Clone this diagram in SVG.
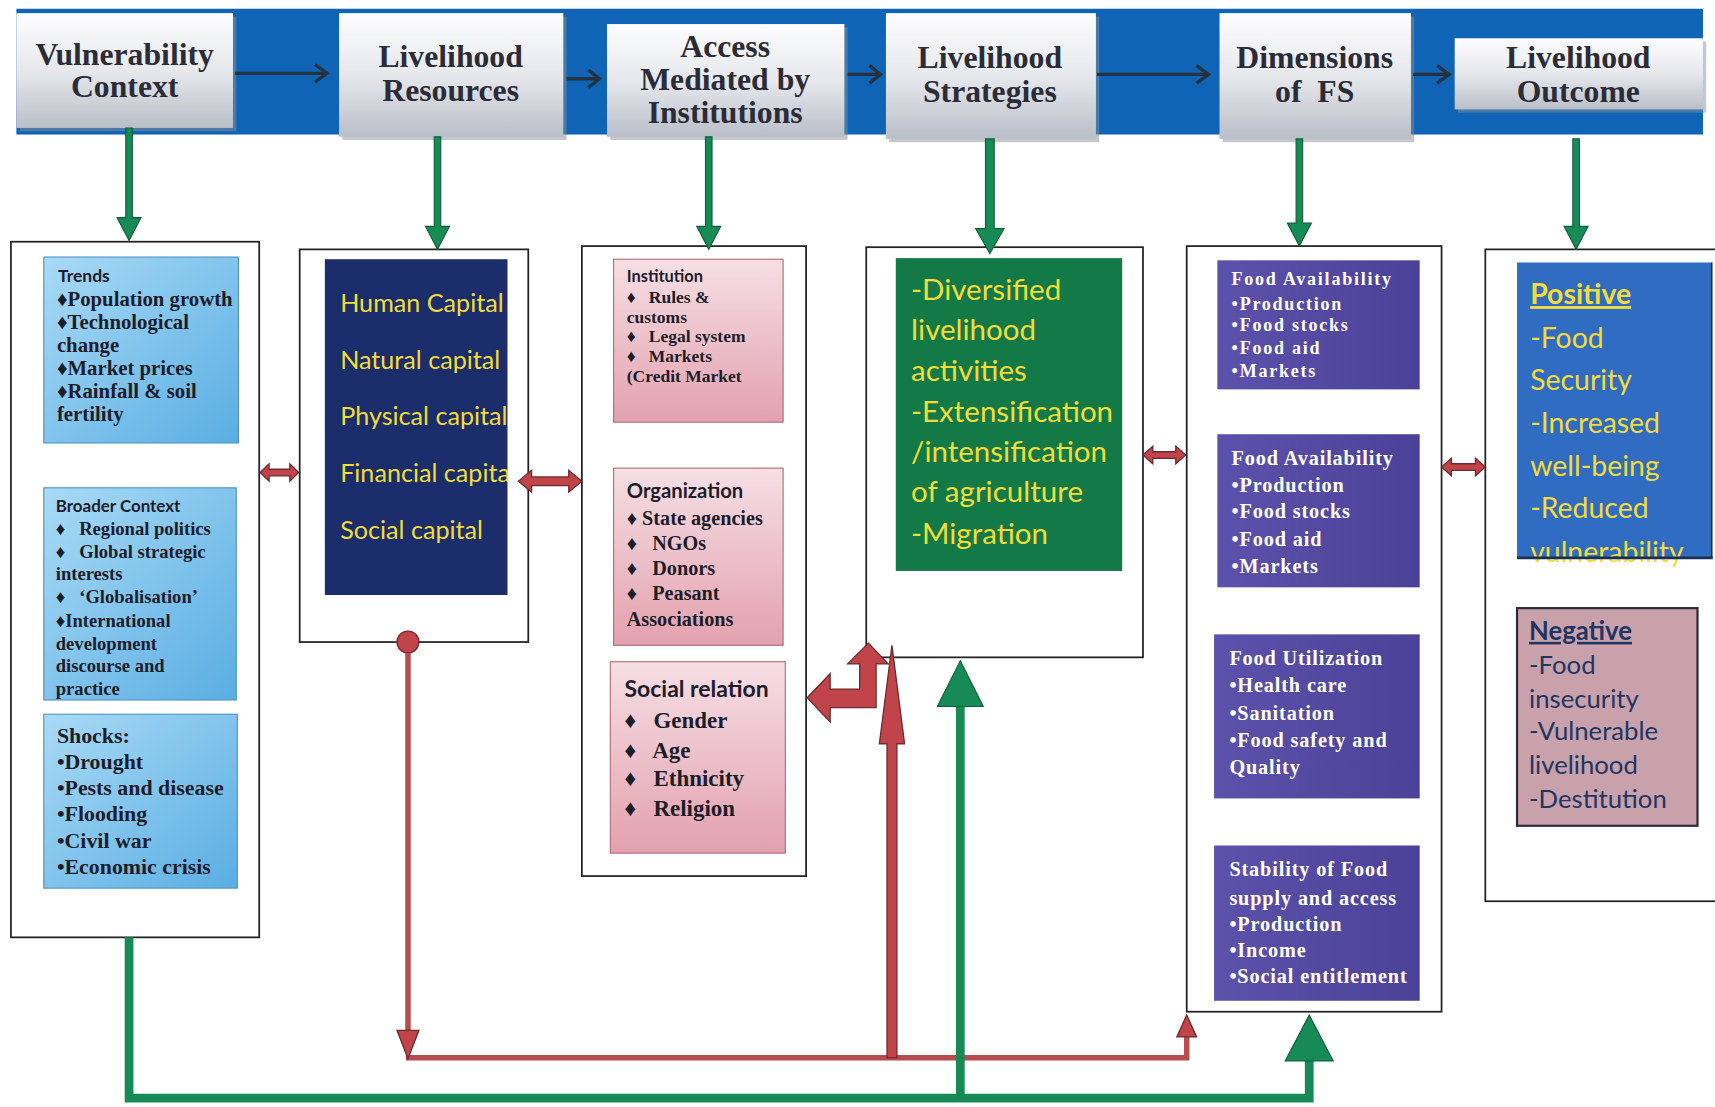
<svg xmlns="http://www.w3.org/2000/svg" width="1715" height="1107" viewBox="0 0 1715 1107">
<defs>
<linearGradient id="hdr" x1="0" y1="0" x2="0" y2="1"><stop offset="0" stop-color="#fdfdfe"/><stop offset="0.5" stop-color="#e6e8ec"/><stop offset="1" stop-color="#b9bfc8"/></linearGradient>
<linearGradient id="lblue" x1="0" y1="0" x2="1" y2="1"><stop offset="0" stop-color="#a9daf6"/><stop offset="1" stop-color="#5aaee3"/></linearGradient>
<linearGradient id="pink" x1="0" y1="0" x2="0" y2="1"><stop offset="0" stop-color="#f6dfe5"/><stop offset="1" stop-color="#e3a1ae"/></linearGradient>
<linearGradient id="purp" x1="0" y1="0" x2="1" y2="0"><stop offset="0" stop-color="#5d52ab"/><stop offset="1" stop-color="#4c4198"/></linearGradient>
<style>
.hdr{fill:url(#hdr)}
.shadow{fill:#8a8f98;opacity:0.5}
.ht{font-family:"Liberation Serif",serif;font-weight:bold;font-size:29px;fill:#2c2c38;text-anchor:middle}
.outer{fill:#ffffff;stroke:#222;stroke-width:1.6}
.sb{font-family:Lato,"Liberation Sans",sans-serif;font-weight:bold;fill:#1d1d2a}
.se{font-family:"Liberation Serif",serif;font-weight:bold;fill:#1d1d2a}
.pw{font-family:"Liberation Serif",serif;font-weight:bold;fill:#ffffff;letter-spacing:0.8px}
.pw1{letter-spacing:1.6px}
.yl{font-family:Lato,"Liberation Sans",sans-serif;fill:#f2dc3a}
.ng{font-family:Lato,"Liberation Sans",sans-serif;fill:#1f3563}
.garr{fill:#178a55;stroke:#0e5e38;stroke-width:1}
.rarr{fill:#c0444a;stroke:#6e2a2e;stroke-width:1.2}
.hline{stroke:#24323f;stroke-width:3;fill:none}
.hhead{stroke:#24323f;stroke-width:3;fill:none;stroke-linejoin:miter}
</style>
</defs>
<rect width="1715" height="1107" fill="#ffffff"/>
<g transform="scale(1.09375)">
<!-- top band -->
<rect id="band" x="15" y="8" width="1542" height="115" fill="#0f64b6"/>

<g id="hdr-vulnerability">
<rect class="shadow" x="18" y="15" width="198" height="105"/>
<rect class="hdr" x="15" y="12" width="198" height="105"/>
<text class="ht" x="114" y="59">Vulnerability</text>
<text class="ht" x="114" y="89">Context</text>
</g>
<g id="hdr-resources">
<rect class="shadow" x="313" y="15" width="205" height="113"/>
<rect class="hdr" x="310" y="12" width="205" height="113"/>
<text class="ht" x="412" y="61">Livelihood</text>
<text class="ht" x="412" y="92">Resources</text>
</g>
<g id="hdr-access">
<rect class="shadow" x="558" y="25" width="217" height="103"/>
<rect class="hdr" x="555" y="22" width="217" height="103"/>
<text class="ht" x="663" y="52">Access</text>
<text class="ht" x="663" y="82">Mediated by</text>
<text class="ht" x="663" y="112">Institutions</text>
</g>
<g id="hdr-strategies">
<rect class="shadow" x="813" y="15" width="192" height="115"/>
<rect class="hdr" x="810" y="12" width="192" height="115"/>
<text class="ht" x="905" y="62">Livelihood</text>
<text class="ht" x="905" y="93">Strategies</text>
</g>
<g id="hdr-dimensions">
<rect class="shadow" x="1118" y="15" width="175" height="115"/>
<rect class="hdr" x="1115" y="12" width="175" height="115"/>
<text class="ht" x="1202" y="62">Dimensions</text>
<text class="ht" x="1202" y="93" xml:space="preserve">of  FS</text>
</g>
<g id="hdr-outcome">
<rect class="shadow" x="1333" y="38" width="227" height="65"/>
<rect class="hdr" x="1330" y="35" width="227" height="65"/>
<text class="ht" x="1443" y="62">Livelihood</text>
<text class="ht" x="1443" y="93">Outcome</text>
</g>

<!-- content boxes -->
<g id="box-vulnerability">
<rect class="outer" x="10" y="221" width="227" height="636"/>
<rect x="40" y="235" width="178" height="170" fill="url(#lblue)" stroke="#4b93c4" stroke-width="1"/>
<text class="sb" x="53" y="258" font-size="16">Trends</text>
<text class="se" font-size="19"><tspan x="52" y="280">♦Population growth</tspan><tspan x="52" y="301">♦Technological</tspan><tspan x="52" y="322">change</tspan><tspan x="52" y="343">♦Market prices</tspan><tspan x="52" y="364">♦Rainfall &amp; soil</tspan><tspan x="52" y="385">fertility</tspan></text>
<rect x="40" y="446" width="176" height="194" fill="url(#lblue)" stroke="#4b93c4" stroke-width="1"/>
<text class="sb" x="51" y="468" font-size="15.5">Broader Context</text>
<text class="se" font-size="17" xml:space="preserve"><tspan x="51" y="489">♦   Regional politics</tspan><tspan x="51" y="510">♦   Global strategic</tspan><tspan x="51" y="530">interests</tspan><tspan x="51" y="551">♦   ‘Globalisation’</tspan><tspan x="51" y="573">♦International</tspan><tspan x="51" y="594">development</tspan><tspan x="51" y="614">discourse and</tspan><tspan x="51" y="635">practice</tspan></text>
<rect x="40" y="653" width="177" height="159" fill="url(#lblue)" stroke="#4b93c4" stroke-width="1"/>
<text class="se" font-size="20"><tspan x="52" y="679">Shocks:</tspan><tspan x="52" y="703">•Drought</tspan><tspan x="52" y="727">•Pests and disease</tspan><tspan x="52" y="751">•Flooding</tspan><tspan x="52" y="775">•Civil war</tspan><tspan x="52" y="799">•Economic crisis</tspan></text>
</g>

<g id="box-resources">
<rect class="outer" x="274" y="228" width="209" height="359"/>
<rect x="297" y="237" width="167" height="307" fill="#1b2d6b"/>
<text class="yl" font-size="23"><tspan x="311" y="285">Human Capital</tspan><tspan x="311" y="337">Natural capital</tspan><tspan x="311" y="389">Physical capital</tspan><tspan x="311" y="441">Financial capita</tspan><tspan x="311" y="493">Social capital</tspan></text>
</g>

<g id="box-access">
<rect class="outer" x="532" y="225" width="205" height="576"/>
<rect x="561" y="237" width="155" height="149" fill="url(#pink)" stroke="#b06a78" stroke-width="1"/>
<text class="sb" x="573" y="258" font-size="15">Institution</text>
<text class="se" font-size="16" xml:space="preserve"><tspan x="573" y="277">♦   Rules &amp;</tspan><tspan x="573" y="295">customs</tspan><tspan x="573" y="313">♦   Legal system</tspan><tspan x="573" y="331">♦   Markets</tspan><tspan x="573" y="349">(Credit Market</tspan></text>
<rect x="561" y="428" width="155" height="162" fill="url(#pink)" stroke="#b06a78" stroke-width="1"/>
<text class="sb" x="573" y="455" font-size="18.5">Organization</text>
<text class="se" font-size="18.5" xml:space="preserve"><tspan x="573" y="480">♦ State agencies</tspan><tspan x="573" y="503">♦   NGOs</tspan><tspan x="573" y="526">♦   Donors</tspan><tspan x="573" y="549">♦   Peasant</tspan><tspan x="573" y="572">Associations</tspan></text>
<rect x="558" y="605" width="160" height="175" fill="url(#pink)" stroke="#b06a78" stroke-width="1"/>
<text class="sb" x="571" y="637" font-size="21">Social relation</text>
<text class="se" font-size="21" xml:space="preserve"><tspan x="571" y="666">♦   Gender</tspan><tspan x="571" y="693">♦   Age</tspan><tspan x="571" y="719">♦   Ethnicity</tspan><tspan x="571" y="746">♦   Religion</tspan></text>
</g>

<g id="box-strategies">
<rect class="outer" x="792" y="226" width="253" height="375"/>
<rect x="819" y="236" width="207" height="286" fill="#137a47"/>
<text class="yl" font-size="27"><tspan x="833" y="274">-Diversified</tspan><tspan x="833" y="311">livelihood</tspan><tspan x="833" y="348">activities</tspan><tspan x="833" y="386">-Extensification</tspan><tspan x="833" y="422">/intensification</tspan><tspan x="833" y="459">of agriculture</tspan><tspan x="833" y="497">-Migration</tspan></text>
</g>

<g id="box-dimensions">
<rect class="outer" x="1085" y="225" width="233" height="700"/>
<rect x="1113" y="238" width="185" height="118" fill="url(#purp)"/>
<text class="pw pw1" font-size="16.5"><tspan x="1126" y="261">Food Availability</tspan><tspan x="1126" y="283">•Production</tspan><tspan x="1126" y="303">•Food stocks</tspan><tspan x="1126" y="324">•Food aid</tspan><tspan x="1126" y="345">•Markets</tspan></text>
<rect x="1113" y="397" width="185" height="140" fill="url(#purp)"/>
<text class="pw" font-size="18.5"><tspan x="1126" y="425">Food Availability</tspan><tspan x="1126" y="450">•Production</tspan><tspan x="1126" y="474">•Food stocks</tspan><tspan x="1126" y="499">•Food aid</tspan><tspan x="1126" y="524">•Markets</tspan></text>
<rect x="1110" y="580" width="188" height="150" fill="url(#purp)"/>
<text class="pw" font-size="18.5"><tspan x="1124" y="608">Food Utilization</tspan><tspan x="1124" y="633">•Health care</tspan><tspan x="1124" y="658">•Sanitation</tspan><tspan x="1124" y="683">•Food safety and</tspan><tspan x="1124" y="708">Quality</tspan></text>
<rect x="1110" y="773" width="188" height="142" fill="url(#purp)"/>
<text class="pw" font-size="18.5"><tspan x="1124" y="801">Stability of Food</tspan><tspan x="1124" y="827">supply and access</tspan><tspan x="1124" y="851">•Production</tspan><tspan x="1124" y="875">•Income</tspan><tspan x="1124" y="899">•Social entitlement</tspan></text>
</g>

<g id="box-outcome">
<rect class="outer" x="1358" y="228" width="240" height="596"/>
<rect x="1387" y="240" width="178" height="270" fill="#2f6cc2"/>
<text class="yl" font-size="26"><tspan x="1399" y="278" font-weight="bold" text-decoration="underline">Positive</tspan><tspan x="1399" y="318">-Food</tspan><tspan x="1399" y="357">Security</tspan><tspan x="1399" y="396">-Increased</tspan><tspan x="1399" y="435">well-being</tspan><tspan x="1399" y="474">-Reduced</tspan><tspan x="1399" y="514">vulnerability</tspan></text>
<line x1="1387" y1="510" x2="1566" y2="510" stroke="#1a2f55" stroke-width="2.5"/>
<line x1="1565" y1="240" x2="1565" y2="510" stroke="#1a2f55" stroke-width="1.5"/>
<rect x="1387" y="556" width="165" height="199" fill="#c8a1aa" stroke="#2a2a38" stroke-width="2"/>
<text class="ng" font-size="23.5"><tspan x="1398" y="585" font-weight="bold" text-decoration="underline">Negative</tspan><tspan x="1398" y="616">-Food</tspan><tspan x="1398" y="647">insecurity</tspan><tspan x="1398" y="677">-Vulnerable</tspan><tspan x="1398" y="708">livelihood</tspan><tspan x="1398" y="739">-Destitution</tspan></text>
</g>

<g id="connectors">
<!-- header arrows -->
<path class="hline" d="M215,67 H298"/><path class="hhead" d="M288,59 L299,67 L288,75"/>
<path class="hline" d="M518,72 H547"/><path class="hhead" d="M538,64 L548,72 L538,80"/>
<path class="hline" d="M775,68 H804"/><path class="hhead" d="M795,60 L805,68 L795,76"/>
<path class="hline" d="M1003,68 H1104"/><path class="hhead" d="M1094,60 L1105,68 L1094,76"/>
<path class="hline" d="M1292,68 H1324"/><path class="hhead" d="M1314,60 L1325,68 L1314,76"/>
<!-- green down arrows -->
<polygon class="garr" points="115,117 121,117 121,199 129,199 118,220 107,199 115,199"/>
<polygon class="garr" points="397,125 403,125 403,207 411,207 400,228 389,207 397,207"/>
<polygon class="garr" points="645,125 651,125 651,207 659,207 648,228 637,207 645,207"/>
<polygon class="garr" points="901,127 909,127 909,209 918,209 905,232 892,209 901,209"/>
<polygon class="garr" points="1185,127 1191,127 1191,204 1199,204 1188,225 1177,204 1185,204"/>
<polygon class="garr" points="1438,127 1444,127 1444,207 1452,207 1441,228 1430,207 1438,207"/>
<!-- red double arrows -->
<polygon class="rarr" points="238,432 246,424 246,429 265,429 265,424 273,432 265,440 265,435 246,435 246,440"/>
<polygon class="rarr" points="474,440 486,430 486,436 520,436 520,430 532,440 520,450 520,444 486,444 486,450"/>
<polygon class="rarr" points="1045,416 1054,408 1054,413 1075,413 1075,408 1084,416 1075,424 1075,419 1054,419 1054,424"/>
<polygon class="rarr" points="1318,427 1327,419 1327,424 1349,424 1349,419 1358,427 1349,435 1349,430 1327,430 1327,435"/>
<!-- bent red arrow -->
<polygon class="rarr" points="738,638 759,616 759,630 786,630 786,607 775,607 794,588 812,607 801,607 801,647 759,647 759,660"/>
<!-- red feedback line -->
<circle cx="373" cy="587" r="10" fill="#c0444a" stroke="#7a2a2e" stroke-width="1.2"/>
<path d="M373,597 V945 M371,967 H1085 V946" fill="none" stroke="#b94a4f" stroke-width="5"/>
<polygon class="rarr" points="363,942 383,942 373,968"/>
<polygon class="rarr" points="1076,948 1094,948 1085,928"/>
<polygon class="rarr" points="811,967 811,680 804,680 815.5,590 827,680 820,680 820,967"/>
<!-- green feedback line -->
<path d="M118,857 V1004 H1197 V966" fill="none" stroke="#178a55" stroke-width="8"/>
<polygon class="garr" points="1175,970 1219,970 1197,928"/>
<path d="M878,1004 V644" fill="none" stroke="#178a55" stroke-width="8"/>
<polygon class="garr" points="857,646 899,646 878,604"/>
</g>
</g>
</svg>
